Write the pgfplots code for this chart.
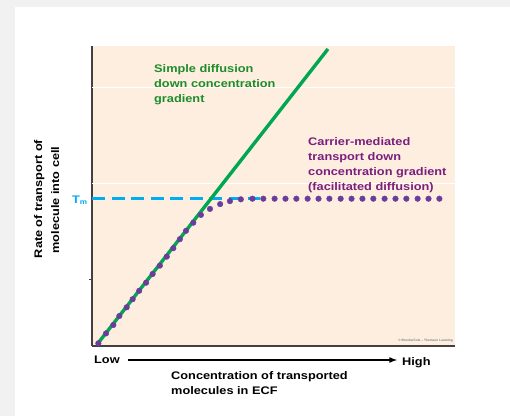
\documentclass[border=0pt]{standalone}
\usepackage{pgfplots}
\pgfplotsset{compat=1.18}
\usepackage{fontspec}
\setmainfont{Liberation Sans}
\newfontfamily\wide[FakeStretch=1.16]{Liberation Sans}
\definecolor{peach}{HTML}{FDEEDF}
\definecolor{lgreen}{HTML}{00A651}
\definecolor{tgreen}{HTML}{1E8C2A}
\definecolor{dpurple}{HTML}{6A3D9A}
\definecolor{tpurple}{HTML}{7A1F7E}
\definecolor{tmblue}{HTML}{00AEEF}
\definecolor{axgray}{HTML}{454040}
\definecolor{framegray}{HTML}{F1F1F1}
\tikzset{lab/.style={anchor=base west, inner sep=0pt, font=\wide\bfseries\fontsize{11}{13}\selectfont}}
\begin{document}
\begin{tikzpicture}[x=1pt,y=1pt]
\fill[framegray] (0,0) rectangle (510,416);
\fill[white] (15,0) rectangle (510,409);
\begin{axis}[
  at={(92pt,70pt)}, anchor=south west,
  scale only axis, width=363pt, height=300pt,
  xmin=0, xmax=1, ymin=0, ymax=1,
  axis x line=bottom, axis y line=left,
  axis line style={-, axgray, line width=1.6pt},
  axis background/.style={fill=peach},
  xtick=\empty, ytick=\empty,
  clip=false,
]
% faint white grid lines
\addplot[white, line width=0.6pt, forget plot] coordinates {(0,0.863) (1,0.863)};
\addplot[white, line width=0.6pt, forget plot] coordinates {(0,0.543) (1,0.543)};
\addplot[axgray, line width=0.6pt, forget plot] coordinates {(-0.008,0.223) (0,0.223)};
% Tm dashed
\addplot[tmblue, line width=3.2pt, dash pattern=on 13pt off 6.5pt] coordinates {(0,0.493) (0.463,0.493)};
% simple diffusion
\addplot[lgreen, line width=3.4pt] coordinates {(0.017,0.01) (0.65,0.99)};
% carrier-mediated
\addplot[only marks, mark=*, mark size=2.8pt, dpurple, mark options={draw=dpurple, fill=dpurple}] coordinates {
(0.0175,0.009) (0.0386,0.042) (0.0587,0.070) (0.0753,0.100) (0.0955,0.129)
(0.112,0.156) (0.130,0.184) (0.149,0.211) (0.167,0.240) (0.187,0.268)
(0.206,0.298) (0.224,0.326) (0.242,0.356) (0.259,0.384) (0.279,0.411)
(0.300,0.437) (0.325,0.457) (0.353,0.473) (0.380,0.483) (0.410,0.489)
(0.442,0.491) (0.472,0.491) (0.503,0.491) (0.533,0.491) (0.563,0.491)
(0.594,0.491) (0.624,0.491) (0.654,0.491) (0.685,0.491) (0.715,0.491)
(0.745,0.491) (0.775,0.491) (0.806,0.491) (0.836,0.491) (0.866,0.491)
(0.897,0.491) (0.927,0.491) (0.957,0.491)};
\end{axis}
% annotations (picture coordinates: y = 416 - pixel y)
\node[lab, text=tgreen] at (154,343.3) {Simple diffusion};
\node[lab, text=tgreen] at (154,328.5) {down concentration};
\node[lab, text=tgreen] at (154,313.5) {gradient};
\node[lab, text=tpurple] at (308,271) {Carrier-mediated};
\node[lab, text=tpurple] at (308,255.8) {transport down};
\node[lab, text=tpurple] at (308,240.6) {concentration gradient};
\node[lab, text=tpurple] at (308,225.5) {(facilitated diffusion)};
\node[lab, text=tmblue] at (72,213) {T\textsubscript{\fontsize{7}{8}\selectfont m}};
\node[anchor=south east, text=gray, font=\bfseries\fontsize{3.2}{3.5}\selectfont, inner sep=0pt] at (453,73.5) {\copyright\ Brooks/Cole -- Thomson Learning};
\node[lab] at (94,52.5) {Low};
\node[lab] at (402,51) {High};
\draw[line width=1.6pt, -latex] (128,56) -- (397,56);
\node[lab] at (171,36.7) {Concentration of transported};
\node[lab] at (171,21.7) {molecules in ECF};
\node[lab, anchor=base, rotate=90] at (42,217) {Rate of transport of};
\node[lab, anchor=base, rotate=90] at (59,216) {molecule into cell};
\end{tikzpicture}
\end{document}
